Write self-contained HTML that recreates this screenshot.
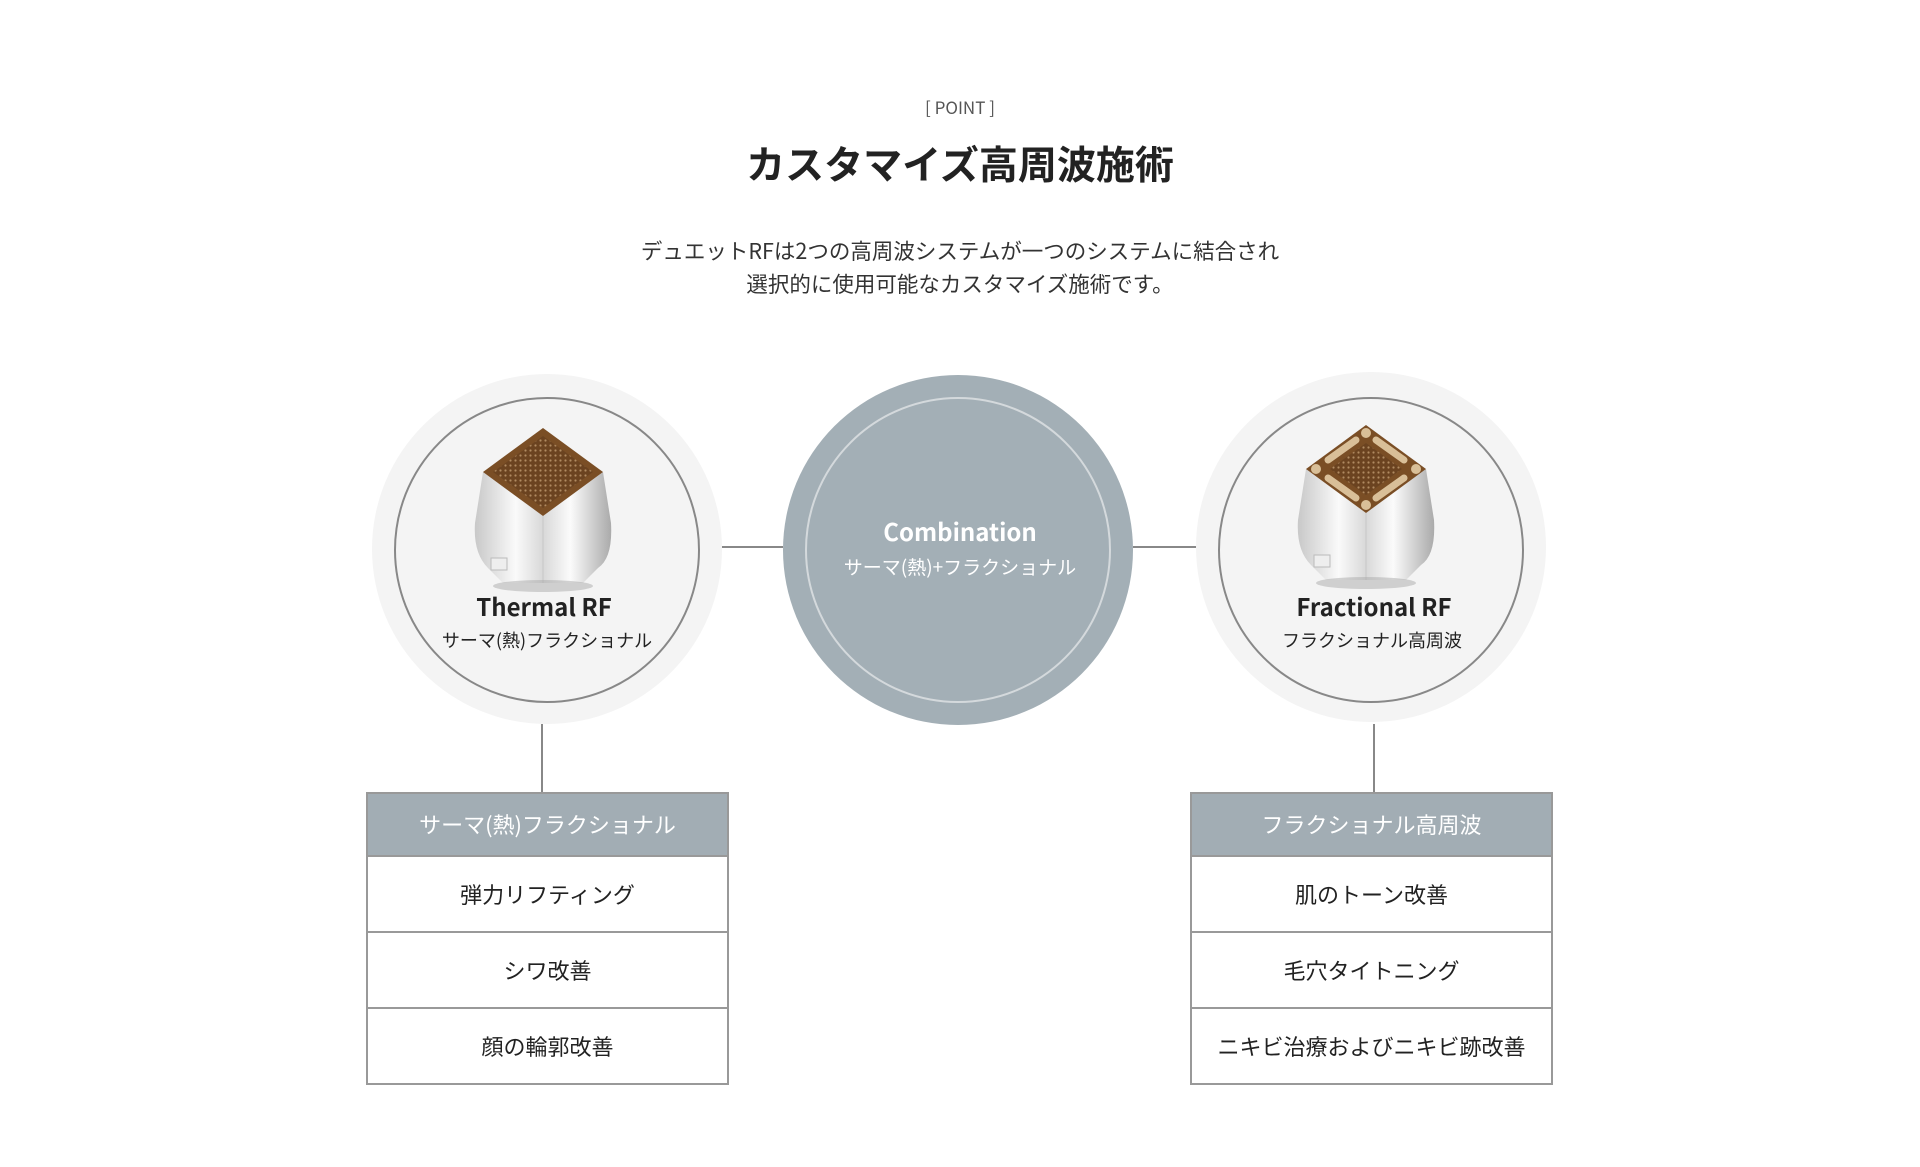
<!DOCTYPE html>
<html><head><meta charset="utf-8"><style>
*{margin:0;padding:0;box-sizing:border-box}
body{width:1920px;height:1167px;background:#fff;position:relative;overflow:hidden;font-family:"Liberation Sans","Noto Sans CJK JP",sans-serif;color:#222}
.t{position:absolute;left:0;width:1920px;text-align:center;font-family:"Noto Sans CJK JP",sans-serif}
.box{position:absolute;width:363px;border:2px solid #999;background:#fff}
.box div{text-align:center;font-family:"Noto Sans CJK JP",sans-serif;font-size:22px;color:#222;border-top:2px solid #999;height:76px;line-height:74px}
.box div.h{background:#a2adb4;color:#fff;border-top:none;height:61px;line-height:61px}
</style></head><body>
<div class="t" style="top:94px;font-size:17px;color:#555">[ POINT ]</div>
<div class="t" style="top:135px;font-size:39px;font-weight:bold;color:#222">カスタマイズ高周波施術</div>
<div class="t" style="top:234px;font-size:21.5px;line-height:33px;color:#333">デュエットRFは2つの高周波システムが一つのシステムに結合され<br>選択的に使用可能なカスタマイズ施術です。</div>

<svg width="1920" height="1167" style="position:absolute;left:0;top:0">
<defs>
<linearGradient id="bd" x1="0" x2="1" y1="0" y2="0">
<stop offset="0" stop-color="#c8c8c8"/><stop offset=".3" stop-color="#fafafa"/><stop offset=".5" stop-color="#d8d8d8"/><stop offset=".7" stop-color="#fbfbfb"/><stop offset="1" stop-color="#aaaaaa"/></linearGradient>
<pattern id="dots" width="5" height="5" patternUnits="userSpaceOnUse"><rect width="5" height="5" fill="#6b4320"/><circle cx="2.5" cy="2.5" r="1.1" fill="#b08a60"/></pattern>
<g id="body">
<path d="M-60 44 L0 88 L60 44 L68 95 Q70 130 55 140 L40 155 L-40 155 L-55 140 Q-70 125 -68 95 Z" fill="url(#bd)"/>
<path d="M0 88 L0 155" stroke="#d0d0d0" stroke-width="2"/>
<ellipse cx="0" cy="158" rx="50" ry="6" fill="#aaa" opacity=".5"/>
<rect x="-52" y="130" width="16" height="12" fill="#eee" stroke="#bbb"/>
</g>
</defs>
<line x1="722" y1="547" x2="783" y2="547" stroke="#888" stroke-width="2"/>
<line x1="1133" y1="547" x2="1197" y2="547" stroke="#888" stroke-width="2"/>
<line x1="542" y1="724" x2="542" y2="793" stroke="#888" stroke-width="2"/>
<line x1="1374" y1="724" x2="1374" y2="793" stroke="#888" stroke-width="2"/>
<circle cx="547" cy="549" r="175" fill="#f4f4f4"/>
<circle cx="547" cy="550" r="152" fill="none" stroke="#888" stroke-width="2"/>
<circle cx="958" cy="550" r="175" fill="#a3afb6"/>
<circle cx="958" cy="550" r="152" fill="none" stroke="#d4d9dc" stroke-width="2"/>
<circle cx="1371" cy="547" r="175" fill="#f4f4f4"/>
<circle cx="1371" cy="550" r="152" fill="none" stroke="#888" stroke-width="2"/>

<g transform="translate(543,428)">
<use href="#body"/>
<path d="M0 0 L60 44 L0 88 L-60 44 Z" fill="#7a4e25"/>
<path d="M0 8 L50 44 L0 80 L-50 44 Z" fill="url(#dots)"/>
</g>
<g transform="translate(1366,425)">
<use href="#body"/>
<path d="M0 0 L60 44 L0 88 L-60 44 Z" fill="#7a4e25"/>
<path d="M0 18 L36 44 L0 70 L-36 44 Z" fill="url(#dots)"/>
<circle cx="0" cy="8" r="5" fill="#d9bf98"/><circle cx="50" cy="44" r="5" fill="#d9bf98"/><circle cx="0" cy="80" r="5" fill="#d9bf98"/><circle cx="-50" cy="44" r="5" fill="#d9bf98"/>
<path d="M10 15 L38 35" stroke="#d9bf98" stroke-width="7" stroke-linecap="round"/>
<path d="M-10 15 L-38 35" stroke="#d9bf98" stroke-width="7" stroke-linecap="round"/>
<path d="M10 73 L38 53" stroke="#d9bf98" stroke-width="7" stroke-linecap="round"/>
<path d="M-10 73 L-38 53" stroke="#d9bf98" stroke-width="7" stroke-linecap="round"/>
</g>
<g font-family="Noto Sans CJK JP, sans-serif" text-anchor="middle">
<text x="544" y="616" font-size="24" font-weight="bold" fill="#222">Thermal RF</text>
<text x="547" y="647" font-size="18" fill="#222">サーマ(熱)フラクショナル</text>
<text x="960" y="541" font-size="24" font-weight="bold" fill="#fff">Combination</text>
<text x="960" y="574" font-size="19" fill="#fff">サーマ(熱)+フラクショナル</text>
<text x="1374" y="616" font-size="24" font-weight="bold" fill="#222">Fractional RF</text>
<text x="1372" y="647" font-size="18" fill="#222">フラクショナル高周波</text>
</g>
</svg>

<div class="box" style="left:366px;top:792px">
<div class="h">サーマ(熱)フラクショナル</div>
<div>弾力リフティング</div>
<div>シワ改善</div>
<div>顔の輪郭改善</div>
</div>
<div class="box" style="left:1190px;top:792px">
<div class="h">フラクショナル高周波</div>
<div>肌のトーン改善</div>
<div>毛穴タイトニング</div>
<div>ニキビ治療およびニキビ跡改善</div>
</div>
</body></html>
